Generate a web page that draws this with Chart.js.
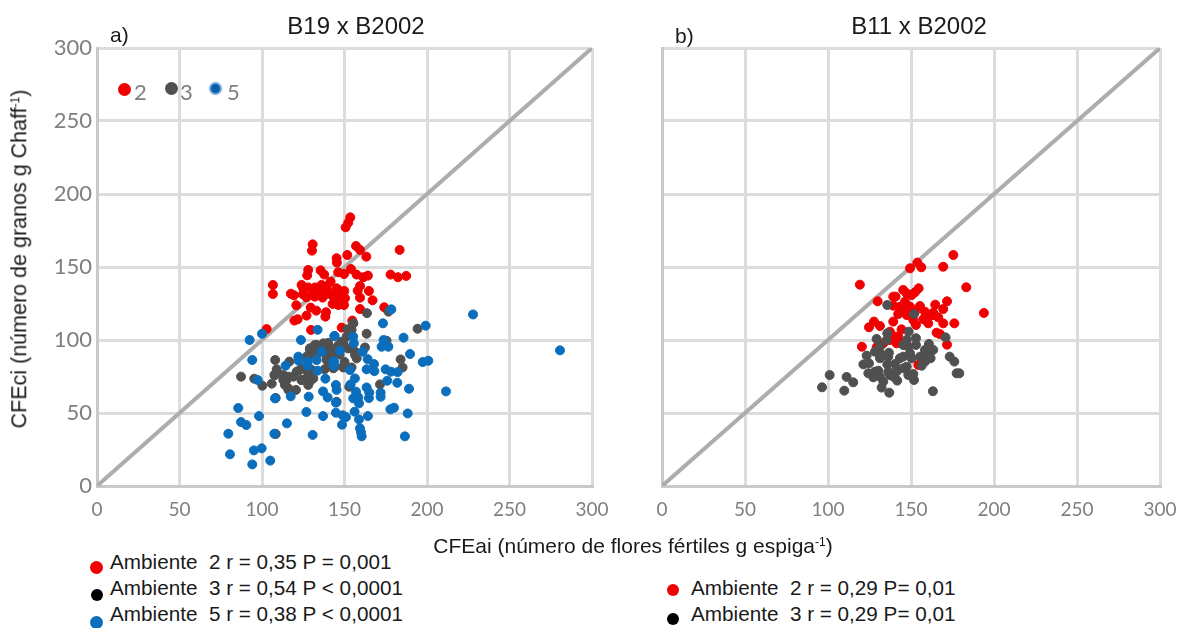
<!DOCTYPE html>
<html lang="es">
<head>
<meta charset="utf-8">
<title>CFEci vs CFEai</title>
<script src="https://cdn.jsdelivr.net/npm/chart.js@4"></script>
<style>
html, body { margin: 0; padding: 0; background: #fff; overflow: hidden; }
#page { position: relative; width: 1191px; height: 628px; font-family: "Liberation Sans", Arial, sans-serif; color: #1a1a1a; }
canvas { position: absolute; top: 0; }
.txt { position: absolute; white-space: pre; line-height: 1; }
.center { transform: translateX(-50%); }
.title { font-size: 24px; top: 14px; }
.inset { font-family: Lato, sans-serif; font-size: 22px; color: #7f7f7f; top: 81px; }
.leg { font-size: 20.7px; }
.dot { position: absolute; border-radius: 50%; }
sup { font-size: 12px; line-height: 0; vertical-align: 7px; }
</style>
</head>
<body>
<div id="page">
  <canvas id="chartA"></canvas>
  <canvas id="chartB"></canvas>

  <div class="txt title center" style="left:356px">B19 x B2002</div>
  <div class="txt title center" style="left:919px">B11 x B2002</div>
  <div class="txt" style="left:110px;top:24px;font-size:21px">a)</div>
  <div class="txt" style="left:675px;top:25px;font-size:21px">b)</div>

  <div class="dot" style="left:118px;top:83px;width:13px;height:13px;background:#f00000"></div>
  <div class="txt inset" style="left:134px">2</div>
  <div class="dot" style="left:165px;top:82px;width:13px;height:13px;background:#505050"></div>
  <div class="txt inset" style="left:180px">3</div>
  <div class="dot" style="left:209px;top:82px;width:9px;height:9px;background:#0a5fa8;border:2px solid #6fa8dc"></div>
  <div class="txt inset" style="left:227px">5</div>

  <div class="txt" style="left:20px;top:259px;font-size:21.5px;transform:translate(-50%,-50%) rotate(-90deg)">CFEci (número de granos g Chaff<sup>-1</sup>)</div>
  <div class="txt center" style="left:633px;top:535px;font-size:21px">CFEai (número de flores fértiles g espiga<sup>-1</sup>)</div>

  <div class="dot" style="left:90px;top:561px;width:13px;height:13px;background:#f00000"></div>
  <div class="txt leg" style="left:110px;top:552px">Ambiente  2 r = 0,35 P = 0,001</div>
  <div class="dot" style="left:91px;top:589px;width:12px;height:12px;background:#000"></div>
  <div class="txt leg" style="left:110px;top:578px">Ambiente  3 r = 0,54 P &lt; 0,0001</div>
  <div class="dot" style="left:90px;top:616px;width:13px;height:13px;background:#0a6ebd"></div>
  <div class="txt leg" style="left:110px;top:604px">Ambiente  5 r = 0,38 P &lt; 0,0001</div>

  <div class="dot" style="left:667px;top:584px;width:12px;height:12px;background:#f00000"></div>
  <div class="txt leg" style="left:691px;top:578px">Ambiente  2 r = 0,29 P= 0,01</div>
  <div class="dot" style="left:667px;top:613px;width:12px;height:12px;background:#000"></div>
  <div class="txt leg" style="left:691px;top:604px">Ambiente  3 r = 0,29 P= 0,01</div>
</div>

<script>
// values, [CFEai, CFEci]
const redA = [[153.5,184],[152.3,180.4],[150.7,177.2],[130.7,165.5],[130.3,161.2],[157,164.4],[159.4,161.7],[151.7,158.2],[163.2,157.1],[183.4,161.7],[145.2,156],[145.4,153],[153.9,148.6],[146.2,146.4],[149.7,145.2],[135.5,147.7],[137.7,144.8],[128,148],[127.4,144.3],[157.3,144.8],[161.4,143],[164.2,144.1],[177.9,144.8],[182.4,143],[187.4,143.9],[106.6,137.7],[106.6,131.5],[117.5,131.7],[119.4,130.6],[124,137.7],[124.8,131.3],[127,129.2],[130.7,130.8],[132.1,136],[136.1,137.7],[139.2,136.5],[141.6,140],[135.1,133.1],[136.7,129],[145.2,135.4],[149.9,133.6],[158,133.8],[159.4,137],[164.8,133.6],[159.4,129],[167,127.2],[144.2,128.6],[150.3,128.6],[142.8,124.7],[146.2,124],[149.7,124],[120.8,123.8],[129.5,122.2],[132.9,120.1],[127,116.7],[138.8,119],[138.4,116],[121.6,114.2],[119.6,113.3],[159.4,121.2],[174.1,122.4],[102.8,107.5],[129.7,106.9],[148.3,108.5],[154.7,113.3],[135,135],[142,132],[146,131],[131,133],[138,131],[148,130],[144,126],[128,136],[137.1,134.3],[142.2,130.8],[146.2,134.3],[132,129.7],[147.2,128.6],[125,135.4]];
const grayA = [[87.3,74.9],[95.3,73.5],[100.2,68.7],[105.9,70.1],[108,86.3],[116.6,85.2],[108.9,79.9],[107.5,76],[112.9,76],[114.9,72.6],[113.9,69.2],[116,65.8],[120.6,65.8],[119,74.9],[123,79.5],[128,76],[124,72.6],[128,69.2],[131.1,73.7],[130.1,79.5],[128,88.6],[129,94.3],[133.1,96.6],[137.2,97.3],[141.2,94.3],[139.2,88.6],[140.2,85.2],[144.2,81.7],[108.3,60.3],[108.3,35.6],[146.2,95.4],[163.6,118.4],[176.6,119.4],[194.3,107.7],[163.4,104.3],[155.3,111.4],[151.7,107.3],[175.5,99.5],[148.3,98.8],[162.4,94.9],[152.3,94.2],[156.4,92],[157.4,87.4],[142.2,93.1],[184,86.7],[185.2,81.2],[149.3,81.2],[154.3,81.2],[143.2,80.6],[171.5,69.6],[152.9,68],[145.2,57.7],[135,92],[140,98],[147,90],[138,80],[150,85],[146,96],[133,90],[107.9,76],[116,74.9],[112.9,72.6],[121,78.3],[125,80.6],[129,93.2],[132,96.6],[137.2,97.7],[141.2,93.2],[139.2,86.3],[149.3,97.7],[151.3,102.3],[154.3,106.9],[155.3,111.4],[156.4,89.7],[128,74.9],[129,71.5],[116,66.9],[124,72.6],[127,88.6],[143.2,90.9],[149.3,81.7]];
const blueA = [[92.5,100],[100,104.3],[123.6,100],[133.7,107],[143.8,102.7],[94.1,86.3],[122,88.6],[122.2,85.8],[114.3,82.4],[127.7,85.2],[127.7,82.4],[133.1,86.3],[136.2,92],[143.6,85.2],[143.6,82.4],[133.7,79],[138.4,73.5],[97.4,72.6],[144.8,69.2],[145.2,65.8],[107.9,60],[117.4,61.4],[128.3,61.2],[137,64.8],[139.8,60.7],[144.8,57.1],[144.8,50.2],[137,47.9],[126.9,50.7],[98.2,47.9],[85.6,53.4],[87.3,43.8],[90.5,41.8],[79.6,35.8],[115.1,42.9],[107.5,35.8],[130.7,35],[80.6,21.7],[95.1,24.4],[99.8,25.8],[94.1,14.8],[105,17.4],[227.9,117.5],[280.6,92.9],[178.4,121],[199.2,109.8],[173.3,111.4],[185.8,101.6],[144,102.7],[155.3,102.2],[155.7,97.7],[173.7,100],[172.5,95.4],[176.6,95.4],[189.7,90.4],[161,92],[147.3,92.6],[197.4,84.9],[200.8,85.8],[164,86.9],[167.9,83.5],[163.4,79.9],[168.1,78.7],[143.2,85.1],[153.3,79.4],[174.9,79.9],[178.2,78.3],[182.2,78],[175.9,72.1],[182,70.7],[156.3,73.7],[153.7,69.6],[163.4,67.5],[165,63.9],[164.8,60.2],[171.9,63.9],[171.9,61.1],[189.1,66.6],[211.5,64.8],[157,64.6],[155.3,60],[158.4,60.7],[158.8,56.6],[180,53.6],[177.8,52.5],[188.3,49.7],[164.2,47.9],[158.8,45.6],[148.9,48.4],[150.9,47.2],[148.5,42],[156.1,50.9],[159.4,39.5],[160,36.7],[160.4,34],[186.6,34]];
const redB = [[175.5,158.2],[153.8,153],[156.2,149.8],[149.4,149.1],[169.4,150.2],[119.2,137.9],[183.3,136.1],[193.9,118.5],[129.9,126.5],[154.6,135.4],[152.4,132.7],[147.4,132],[145.3,134.3],[140.7,129.7],[146.4,126.3],[171.7,126.5],[164.6,124.2],[139.3,123.5],[155.4,123.3],[169.4,121.2],[158.4,119.4],[163.4,118.7],[142.3,117.8],[147.4,117.1],[166.4,115.5],[157.4,114.2],[160.4,111.4],[169.4,111.4],[176.1,111.4],[153,110.3],[127.7,112.6],[124.7,108.7],[131.3,109.6],[139.3,112.6],[144.3,107.3],[137.3,105.7],[165.4,105],[167.4,104.1],[120.4,95.4],[171.7,96.8],[129.3,95],[141.3,97.7],[142.3,102.3],[154.4,82.9],[149.4,122.8],[143.3,122.8],[151.4,113.7],[139.3,129.7],[145.3,120.6],[150.4,130.8],[160.4,116],[137.3,100],[133.3,97.7],[140.3,102.3],[163.4,117.1],[152.4,119.4],[143.3,100]];
const grayB = [[135.7,124],[151.8,117.8],[135.7,104.6],[129.3,100.7],[148.6,105.7],[153,101.2],[170.8,101.8],[145.3,96.6],[153,96.6],[160.8,97.3],[163.4,93.2],[128.3,92],[131.3,90.9],[136.7,91.3],[149.4,90.9],[159.4,89.7],[123.3,89.3],[131.3,87.5],[143.3,87.5],[155.4,88.6],[161.8,87.5],[173.3,88.6],[176.1,85.2],[121.3,83.3],[124.7,84],[135.7,83.3],[140.3,83.6],[156.4,82.4],[147.4,81.7],[130.3,79],[124.3,77.2],[177.5,77.2],[179.1,77.2],[151.4,76.7],[148.4,76],[137.3,76],[127.3,74.4],[101,76],[111.2,74.7],[115.2,71],[141.7,72.2],[151.8,72.6],[133.3,71.5],[132.3,67.4],[96.4,67.6],[109.8,65.3],[136.9,63.9],[163.2,64.9],[136.3,78.3],[141.3,78.3],[145.3,80.6],[131.3,95.4],[135.3,100],[148.4,95.4],[150.4,87.4],[136.3,88.6],[128.3,78.3],[131.3,74.9],[139.3,74.9],[145.3,88.6],[158.4,85.2],[158.4,93.2],[147.4,100],[141.3,79.5]];
const diagonal = [[0, 0], [300, 300]];
const tickValues = [0, 50, 100, 150, 200, 250, 300];

const RED = '#f00000';
const GRAY = '#505050';
const BLUE = '#0a6ebd';
const GRID = '#dcdcdc';
const TICK = '#7f7f7f';

function toPoints(list) {
    return list.map((p) => ({ x: p[0], y: p[1] }));
}

function pointSet(label, list, color) {
    return {
        label: label,
        data: toPoints(list),
        backgroundColor: color,
        borderColor: color,
        pointRadius: 4.5,
        showLine: false
    };
}

function createChart(id, left, width, leftSpace, rightSpace, showY, sets) {
    const canvas = document.getElementById(id);
    canvas.style.left = left + 'px';
    new Chart(canvas.getContext('2d'), {
        type: 'scatter',
        data: {
            datasets: sets.concat([{
                label: '1:1',
                data: toPoints(diagonal),
                showLine: true,
                borderColor: '#adadad',
                borderWidth: 4,
                pointRadius: 0
            }])
        },
        options: {
            responsive: false,
            animation: false,
            layout: { padding: { top: 48, right: rightSpace, bottom: 0, left: 0 } },
            plugins: { legend: { display: false }, title: { display: false }, tooltip: { enabled: false } },
            scales: {
                x: {
                    min: 0,
                    max: 300,
                    afterBuildTicks: (axis) => { axis.ticks = tickValues.map((v) => ({ value: v })); },
                    afterFit: (axis) => { axis.height = 628 - 486 - 90; },
                    grid: { color: GRID, lineWidth: 3, drawTicks: false },
                    border: { color: '#c9c9c9', width: 3 },
                    ticks: { color: TICK, padding: 12, maxRotation: 0, autoSkip: false, font: { family: 'Lato', size: 19 } }
                },
                y: {
                    min: 0,
                    max: 300,
                    afterBuildTicks: (axis) => { axis.ticks = tickValues.map((v) => ({ value: v })); },
                    afterFit: (axis) => { axis.width = leftSpace; },
                    grid: { color: GRID, lineWidth: 3, drawTicks: false },
                    border: { color: '#c9c9c9', width: 3 },
                    ticks: { display: showY, color: TICK, padding: 5, font: { family: 'Lato', size: 22 } }
                }
            }
        }
    });
}

const chartSize = { a: [0, 625], b: [625, 566] };
document.getElementById('chartA').width = chartSize.a[1];
document.getElementById('chartA').height = 538;
document.getElementById('chartB').width = chartSize.b[1];
document.getElementById('chartB').height = 538;

createChart('chartA', chartSize.a[0], chartSize.a[1], 97, 33, true, [
    pointSet('Ambiente 5', blueA, BLUE),
    pointSet('Ambiente 3', grayA, GRAY),
    pointSet('Ambiente 2', redA, RED)
]);
createChart('chartB', chartSize.b[0], chartSize.b[1], 37, 31, false, [
    pointSet('Ambiente 3', grayB, GRAY),
    pointSet('Ambiente 2', redB, RED)
]);
</script>
</body>
</html>
